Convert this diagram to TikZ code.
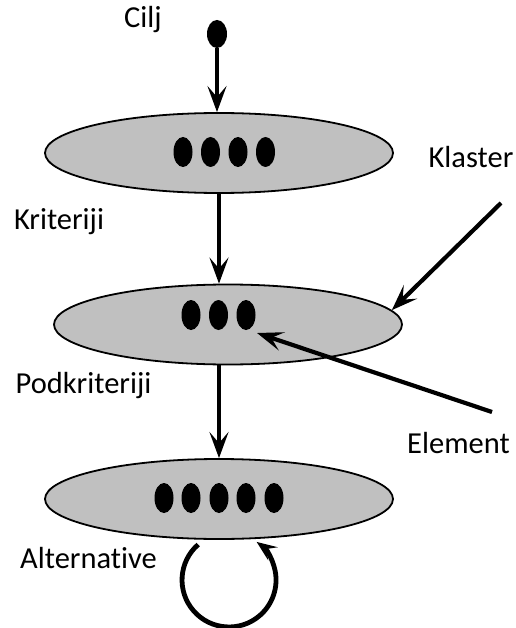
\documentclass[tikz,border=0pt]{standalone}
\usepackage{fontspec}
\setmainfont{Carlito}[Ligatures={NoCommon}]
\usetikzlibrary{shapes.geometric,arrows.meta,calc}
\begin{document}
\begin{tikzpicture}[x=1pt,y=-1pt,
  cluster/.style={ellipse,draw=black,line width=1.8pt,fill=clustergray,minimum width=348pt,minimum height=80pt,inner sep=0pt},
  elem/.style={ellipse,fill=black,minimum width=19pt,minimum height=30pt,inner sep=0pt},
  lbl/.style={font=\fontsize{30.5}{34}\selectfont,text=black,inner sep=0pt},
  arr/.style={line width=4.2pt,-{Stealth[length=26pt,width=19pt,inset=11pt]}},
  looparr/.style={line width=4.8pt,-{Stealth[length=20pt,width=16pt,inset=8pt]}}
]
\definecolor{clustergray}{RGB}{192,192,192}
\useasboundingbox (0,0) rectangle (515,628);
% goal dot
\node[ellipse,fill=black,minimum width=20pt,minimum height=28pt,inner sep=0pt] (goal) at (217,34) {};
% clusters
\node[cluster] (e1) at (219,153) {};
\node[cluster] (e2) at (228,324.5) {};
\node[cluster] (e3) at (219,499) {};
% elements
\foreach \x [count=\i] in {183,210.5,238,265.5} \node[elem] (d1\i) at (\x,152) {};
\foreach \x [count=\i] in {191,218.5,246} \node[elem] (d2\i) at (\x,315) {};
\foreach \x [count=\i] in {164,191,219,246,274} \node[elem] (d3\i) at (\x,498) {};
% labels
\node[lbl] (lcilj) at (143,20) {Cilj};
\node[lbl] (lkriteriji) at (59,222) {Kriteriji};
\node[lbl] (lpodkriteriji) at (83.5,386) {Podkriteriji};
\node[lbl] (lalternative) at (88.5,558) {Alternative};
\node[lbl] (lklaster) at (471,157) {Klaster};
\node[lbl] (lelement) at (458.5,443) {Element};
% vertical arrows
\draw[arr] (goal.south) -- (goal.south |- e1.north);
\draw[arr] (e1.south) -- (e1.south |- e2.north);
\draw[arr] (e3.north |- e2.south) -- (e3.north);
% Klaster arrow
\coordinate (kstart) at (501,203);
\draw[arr] (kstart) -- (e2.5);
% Element arrow
\coordinate (estart) at (492,412);
\draw[arr] (estart) -- ($(d23.center)+(11,18)$);
% self loop
\coordinate (lstart) at (198.2,544.5);
\draw[looparr] (lstart) arc[start angle=-131, end angle=-414, radius=47];
\end{tikzpicture}
\end{document}
